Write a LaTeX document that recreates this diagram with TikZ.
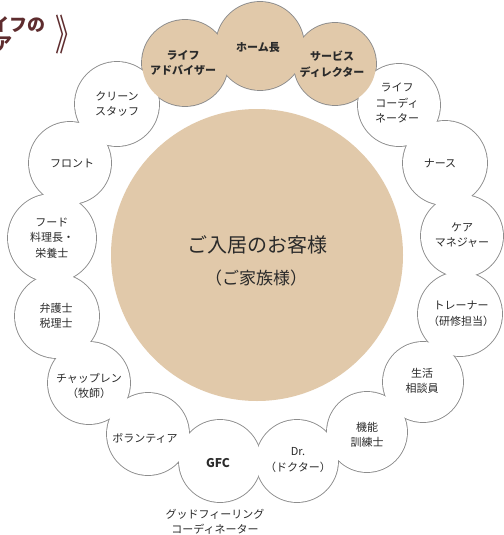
\documentclass[tikz,border=0pt]{standalone}
\usepackage{fontspec}
\setmainfont{Noto Sans CJK JP}
\definecolor{ringgray}{HTML}{8C8C8C}
\definecolor{beige}{HTML}{E1C9AA}
\definecolor{txt}{HTML}{2A2A2A}
\definecolor{titlec}{HTML}{5E2C2E}
\newcommand\ringwhite{cs/117/104/42, fr/70/163/41, fd/52/238/44, bg/57/316/42, ch/89/383/41, vo/148/434/41, gfc/220/461/41, dr/297/461/41, kn/367/432/40, sk/423/382/40, tr/460/314/42, cm/462/236/41, ns/445/163/42, lc/399/105/41}
\newcommand\ringbeige{ad/185/63/43, home/260/46/44, sd/335/64/41}
\begin{document}
\begin{tikzpicture}[x=1pt,y=-1pt,
  ringline/.style={draw=ringgray, line width=1.8pt},
  lbl/.style={align=center, text=txt, inner sep=0pt, font=\fontsize{11}{15.5}\selectfont},
  blbl/.style={lbl, font=\fontsize{11}{15.5}\selectfont\bfseries},
  title/.style={text=titlec, inner sep=0pt, font=\fontsize{18}{20}\selectfont\bfseries}]
\useasboundingbox (0,0) rectangle (503,535);
\fill[white] (0,0) rectangle (503,535);
% outlines of the ring (outer half of each stroke stays visible)
\foreach \n/\x/\y/\r in \ringwhite {\coordinate (\n) at (\x,\y); \draw[ringline] (\n) circle[radius=\r];}
\foreach \n/\x/\y/\r in \ringbeige {\coordinate (\n) at (\x,\y); \draw[ringline] (\n) circle[radius=\r];}
\foreach \n/\x/\y/\r in \ringwhite {\fill[white] (\n) circle[radius=\r];}
\foreach \n/\x/\y/\r in \ringbeige {\fill[beige] (\n) circle[radius=\r];}
% central circle
\coordinate (guest) at (257,255);
\fill[beige] (guest) circle[radius=146];
\node[text=txt, inner sep=0pt, font=\fontsize{20}{24}\selectfont] (g1) at (257,245) {ご入居のお客様};
\node[text=txt, inner sep=0pt, font=\fontsize{17}{20}\selectfont] (g2) at (256,278) {（ご家族様）};
% labels
\node[blbl] (t-ad) at (183,63) {ライフ\\アドバイザー};
\node[blbl] (t-home) at (258,47) {ホーム長};
\node[blbl] (t-sd) at (332,64) {サービス\\ディレクター};
\node[lbl] (t-lc) at (397,103) {ライフ\\コーディ\\ネーター};
\node[lbl] (t-ns) at (440,163) {ナース};
\node[lbl] (t-cm) at (462,235) {ケア\\マネジャー};
\node[lbl] (t-tr) at (461,314) {トレーナー\\（研修担当）};
\node[lbl] (t-sk) at (422,381) {生活\\相談員};
\node[lbl] (t-kn) at (367,435) {機能\\訓練士};
\node[lbl] (t-dr) at (298,460) {Dr.\\（ドクター）};
\node[blbl, font=\fontsize{12}{15}\selectfont\bfseries] (t-gfc) at (218,463) {GFC};
\node[lbl] (t-vo) at (145,438) {ボランティア};
\node[lbl] (t-ch) at (89,386) {チャップレン\\（牧師）};
\node[lbl] (t-bg) at (56,316) {弁護士\\税理士};
\node[lbl] (t-fd) at (52,238) {フード\\料理長・\\栄養士};
\node[lbl] (t-fr) at (72,163) {フロント};
\node[lbl] (t-cs) at (117,104) {クリーン\\スタッフ};
\node[lbl] (t-gfcn) at (215,522) {グッドフィーリング\\コーディネーター};
% title fragment (cut by the left edge, as in the reference)
\node[title, anchor=east] (ttl1) at (46,25) {イフの};
\node[title, anchor=east] (ttl2) at (13,44) {ア};
\node[text=titlec, inner sep=0pt, anchor=west, font=\fontsize{20}{20}\selectfont] (ttl3) at (55,35) {\scalebox{1.3}[2.1]{》}};
\end{tikzpicture}
\end{document}
